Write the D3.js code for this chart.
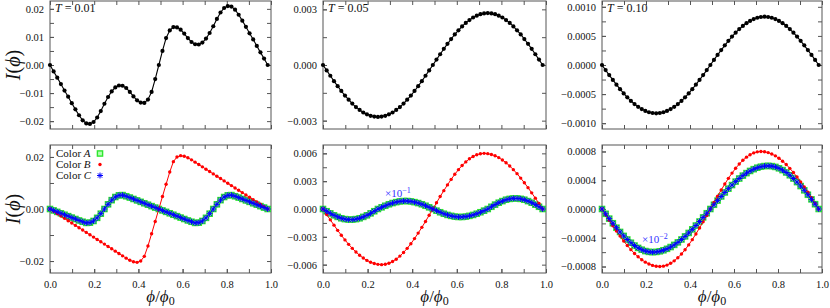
<!DOCTYPE html>
<html lang="en">
<head>
<meta charset="UTF-8">
<title>I(phi) panels</title>
<script src="https://d3js.org/d3.v7.min.js"></script>
<style>
  body { margin: 0; background: #fff; }
  svg { display: block; }
  svg text { font-family: "Liberation Serif", "Times New Roman", serif !important; }
</style>
</head>
<body>
<svg width="830" height="308"></svg>
<script>
// flux grid phi/phi0 (61 points, last one just short of 1)
var PHI = [0, 0.0164, 0.0328, 0.0493, 0.0657, 0.0821, 0.0985, 0.1149, 0.1313, 0.1478,
  0.1642, 0.1806, 0.1970, 0.2134, 0.2298, 0.2463, 0.2627, 0.2791, 0.2955, 0.3119,
  0.3283, 0.3448, 0.3612, 0.3776, 0.3940, 0.4104, 0.4268, 0.4433, 0.4597, 0.4761,
  0.4925, 0.5089, 0.5253, 0.5418, 0.5582, 0.5746, 0.5910, 0.6074, 0.6238, 0.6403,
  0.6567, 0.6731, 0.6895, 0.7059, 0.7223, 0.7388, 0.7552, 0.7716, 0.7880, 0.8044,
  0.8208, 0.8373, 0.8537, 0.8701, 0.8865, 0.9029, 0.9194, 0.9358, 0.9522, 0.9686, 0.9850];

// all currents below are in units of 1e-3
var UNIT = 1e-3;

// top row: total current at T = 0.01, 0.05, 0.10
var T001 = [0, -2.3, -4.5, -6.8, -9.1, -11.3, -13.6, -15.8, -17.9, -19.7, -20.8, -21.0, -20.3, -18.7, -16.4,
  -13.8, -11.4, -9.4, -8.0, -7.3, -7.4, -8.2, -9.6, -11.2, -12.6, -13.4, -13.5, -12.3, -9.6, -5.0, 0,
  5.0, 9.6, 12.3, 13.5, 13.4, 12.6, 11.2, 9.6, 8.2, 7.4, 7.3, 8.0, 9.4, 11.4, 13.8, 16.4, 18.7, 20.3,
  21.0, 20.8, 19.7, 17.9, 15.8, 13.6, 11.3, 9.1, 6.8, 4.5, 2.3, 0];
var T005 = [0, -0.29, -0.58, -0.87, -1.14, -1.40, -1.65, -1.87, -2.08, -2.27, -2.42, -2.56, -2.66, -2.74, -2.78,
  -2.80, -2.78, -2.74, -2.66, -2.56, -2.42, -2.27, -2.08, -1.87, -1.65, -1.40, -1.14, -0.87, -0.58, -0.29, 0,
  0.29, 0.58, 0.87, 1.14, 1.40, 1.65, 1.87, 2.08, 2.27, 2.42, 2.56, 2.66, 2.74, 2.78, 2.80, 2.78, 2.74, 2.66,
  2.56, 2.42, 2.27, 2.08, 1.87, 1.65, 1.40, 1.14, 0.87, 0.58, 0.29, 0];
var T010 = [0, -0.087, -0.173, -0.256, -0.338, -0.415, -0.488, -0.555, -0.617, -0.671, -0.719, -0.758, -0.789,
  -0.812, -0.825, -0.830, -0.825, -0.812, -0.789, -0.758, -0.719, -0.671, -0.617, -0.555, -0.488, -0.415,
  -0.338, -0.256, -0.173, -0.087, 0, 0.087, 0.173, 0.256, 0.338, 0.415, 0.488, 0.555, 0.617, 0.671, 0.719,
  0.758, 0.789, 0.812, 0.825, 0.830, 0.825, 0.812, 0.789, 0.758, 0.719, 0.671, 0.617, 0.555, 0.488, 0.415,
  0.338, 0.256, 0.173, 0.087, 0];

// bottom row: colour components (A green, B red, C blue)
var BL_A = [0, -0.55, -1.1, -1.65, -2.2, -2.75, -3.3, -3.85, -4.4, -4.9, -5.35, -5.25, -4.6, -3.4, -1.8, 0,
  1.8, 3.4, 4.6, 5.25, 5.35, 4.9, 4.4, 3.85, 3.3, 2.75, 2.2, 1.65, 1.1, 0.55, 0,
  -0.55, -1.1, -1.65, -2.2, -2.75, -3.3, -3.85, -4.4, -4.9, -5.35, -5.25, -4.6, -3.4, -1.8, 0,
  1.8, 3.4, 4.6, 5.25, 5.35, 4.9, 4.4, 3.85, 3.3, 2.75, 2.2, 1.65, 1.1, 0.55, 0];
var BL_B = [0, -0.9, -1.8, -2.7, -3.6, -4.5, -5.4, -6.3, -7.2, -8.1, -9.0, -9.9, -10.8, -11.7, -12.6, -13.5,
  -14.4, -15.3, -16.2, -17.1, -18.0, -18.9, -19.7, -20.3, -20.5, -20.0, -18.2, -14.2, -9.5, -4.8, 0,
  4.8, 9.5, 14.2, 18.2, 20.0, 20.5, 20.3, 19.7, 18.9, 18.0, 17.1, 16.2, 15.3, 14.4, 13.5, 12.6, 11.7,
  10.8, 9.9, 9.0, 8.1, 7.2, 6.3, 5.4, 4.5, 3.6, 2.7, 1.8, 0.9, 0];
var BL_C = [0, -0.55, -1.1, -1.65, -2.2, -2.75, -3.3, -3.85, -4.4, -4.9, -5.35, -5.25, -4.6, -3.4, -1.8, 0,
  1.8, 3.4, 4.6, 5.25, 5.35, 4.9, 4.4, 3.85, 3.3, 2.75, 2.2, 1.65, 1.1, 0.55, 0,
  -0.55, -1.1, -1.65, -2.2, -2.75, -3.3, -3.85, -4.4, -4.9, -5.35, -5.25, -4.6, -3.4, -1.8, 0,
  1.8, 3.4, 4.6, 5.25, 5.35, 4.9, 4.4, 3.85, 3.3, 2.75, 2.2, 1.65, 1.1, 0.55, 0];

var BM_A = [0, -0.24, -0.47, -0.68, -0.85, -1.00, -1.09, -1.14, -1.14, -1.09, -1.00, -0.85, -0.68, -0.47, -0.24, 0,
  0.18, 0.35, 0.51, 0.64, 0.74, 0.82, 0.86, 0.86, 0.82, 0.74, 0.64, 0.51, 0.35, 0.18, 0,
  -0.18, -0.35, -0.51, -0.64, -0.74, -0.82, -0.86, -0.86, -0.82, -0.74, -0.64, -0.51, -0.35, -0.18, 0,
  0.24, 0.47, 0.68, 0.85, 1.00, 1.09, 1.14, 1.14, 1.09, 1.00, 0.85, 0.68, 0.47, 0.24, 0];
var BM_B = [0, -0.59, -1.17, -1.74, -2.30, -2.83, -3.33, -3.81, -4.24, -4.64, -4.99, -5.29, -5.54, -5.74, -5.88,
  -5.97, -6.00, -5.96, -5.85, -5.66, -5.41, -5.08, -4.69, -4.24, -3.74, -3.19, -2.60, -1.98, -1.34, -0.67, 0,
  0.67, 1.34, 1.98, 2.60, 3.19, 3.74, 4.24, 4.69, 5.08, 5.41, 5.66, 5.85, 5.96, 6.00, 5.97, 5.88, 5.74, 5.54,
  5.29, 4.99, 4.64, 4.24, 3.81, 3.33, 2.83, 2.30, 1.74, 1.17, 0.59, 0];
var BM_C = [0, -0.24, -0.47, -0.68, -0.85, -1.00, -1.09, -1.14, -1.14, -1.09, -1.00, -0.85, -0.68, -0.47, -0.24, 0,
  0.18, 0.35, 0.51, 0.64, 0.74, 0.82, 0.86, 0.86, 0.82, 0.74, 0.64, 0.51, 0.35, 0.18, 0,
  -0.18, -0.35, -0.51, -0.64, -0.74, -0.82, -0.86, -0.86, -0.82, -0.74, -0.64, -0.51, -0.35, -0.18, 0,
  0.24, 0.47, 0.68, 0.85, 1.00, 1.09, 1.14, 1.14, 1.09, 1.00, 0.85, 0.68, 0.47, 0.24, 0];

var BR_A = [0, -0.067, -0.134, -0.198, -0.260, -0.319, -0.374, -0.424, -0.469, -0.508, -0.541, -0.566, -0.585,
  -0.596, -0.600, -0.597, -0.588, -0.574, -0.554, -0.529, -0.499, -0.464, -0.424, -0.381, -0.333, -0.283,
  -0.230, -0.174, -0.117, -0.059, 0, 0.059, 0.117, 0.174, 0.230, 0.283, 0.333, 0.381, 0.424, 0.464, 0.499,
  0.529, 0.554, 0.574, 0.588, 0.597, 0.600, 0.596, 0.585, 0.566, 0.541, 0.508, 0.469, 0.424, 0.374, 0.319,
  0.260, 0.198, 0.134, 0.067, 0];
var BR_B = [0, -0.078, -0.156, -0.232, -0.306, -0.377, -0.444, -0.508, -0.565, -0.619, -0.665, -0.705, -0.739,
  -0.765, -0.784, -0.796, -0.800, -0.795, -0.780, -0.755, -0.721, -0.677, -0.625, -0.566, -0.499, -0.426,
  -0.347, -0.264, -0.179, -0.090, 0, 0.090, 0.179, 0.264, 0.347, 0.426, 0.499, 0.566, 0.625, 0.677, 0.721,
  0.755, 0.780, 0.795, 0.800, 0.796, 0.784, 0.765, 0.739, 0.705, 0.665, 0.619, 0.565, 0.508, 0.444, 0.377,
  0.306, 0.232, 0.156, 0.078, 0];
var BR_C = [0, -0.067, -0.134, -0.198, -0.260, -0.319, -0.374, -0.424, -0.469, -0.508, -0.541, -0.566, -0.585,
  -0.596, -0.600, -0.597, -0.588, -0.574, -0.554, -0.529, -0.499, -0.464, -0.424, -0.381, -0.333, -0.283,
  -0.230, -0.174, -0.117, -0.059, 0, 0.059, 0.117, 0.174, 0.230, 0.283, 0.333, 0.381, 0.424, 0.464, 0.499,
  0.529, 0.554, 0.574, 0.588, 0.597, 0.600, 0.596, 0.585, 0.566, 0.541, 0.508, 0.469, 0.424, 0.374, 0.319,
  0.260, 0.198, 0.134, 0.067, 0];

// tick labels
var X_TICKS = [0, 0.2, 0.4, 0.6, 0.8, 1.0];
var TL_TICKS = [-0.02, -0.01, 0, 0.01, 0.02];
var TM_TICKS = [-0.003, 0, 0.003];
var TR_TICKS = [-0.001, -0.0005, 0, 0.0005, 0.001];
var BL_TICKS = [-0.02, 0, 0.02];
var BM_TICKS = [-0.006, -0.003, 0, 0.003, 0.006];
var BR_TICKS = [-0.0008, -0.0004, 0, 0.0004, 0.0008];
var TEMPS = ["0.01", "0.05", "0.10"];
var LEGEND = ["A", "B", "C"];

var svg = d3.select("svg");
var SERIF = '"Liberation Serif", "Times New Roman", serif';

var STYLE = {
  black: {line: "#000", width: 1.1},
  A: {line: "#2ee62e", width: 1},
  B: {line: "#ff0000", width: 1},
  C: {line: "#0000ff", width: 1}
};

var cols = [[50, 271], [323, 546], [602, 822]];
var rows = [[1, 129], [145, 273]];

var panels = [
  {c: 0, r: 0, dom: 0.0228, ticks: TL_TICKS, minor: 0.005, fmt: ".2f", series: [["black", T001]], temp: TEMPS[0]},
  {c: 1, r: 0, dom: 0.00345, ticks: TM_TICKS, minor: 0.0015, fmt: ".3f", series: [["black", T005]], temp: TEMPS[1]},
  {c: 2, r: 0, dom: 0.0011, ticks: TR_TICKS, minor: 0.00025, fmt: ".4f", series: [["black", T010]], temp: TEMPS[2]},
  {c: 0, r: 1, dom: 0.0246, ticks: BL_TICKS, minor: 0.01, fmt: ".2f", series: [["A", BL_A], ["B", BL_B], ["C", BL_C]]},
  {c: 1, r: 1, dom: 0.0069, ticks: BM_TICKS, minor: 0.0015, fmt: ".3f", series: [["A", BM_A], ["B", BM_B], ["C", BM_C]], note: {x: 385, y: 197, p: "\u22121"}},
  {c: 2, r: 1, dom: 0.00089, ticks: BR_TICKS, minor: 0.0002, fmt: ".4f", series: [["A", BR_A], ["B", BR_B], ["C", BR_C]], note: {x: 642, y: 243, p: "\u22122"}}
];

function styleAxis(g) {
  g.select(".domain").remove();
  g.attr("font-family", SERIF).attr("font-size", 10.5);
  g.selectAll("line").attr("stroke", "#555");
  g.selectAll("text").attr("fill", "#111").style("font-family", SERIF);
}

function drawMarker(sel, kind) {
  if (kind === "black") {
    sel.append("circle").attr("r", 2.1).attr("fill", "#000");
  } else if (kind === "B") {
    sel.append("circle").attr("r", 1.7).attr("fill", "#ff0000");
  } else if (kind === "A") {
    sel.append("rect").attr("x", -2.6).attr("y", -2.6).attr("width", 5.2).attr("height", 5.2)
      .attr("fill", "#b4ffb4").attr("stroke", "#2ee62e").attr("stroke-width", 1.4);
  } else {
    sel.append("path").attr("d", "M-3,0H3M0,-3V3M-2.2,-2.2L2.2,2.2M-2.2,2.2L2.2,-2.2")
      .attr("stroke", "#0000ff").attr("stroke-width", 1).attr("fill", "none");
  }
}

panels.forEach(function(p) {
  var x0 = cols[p.c][0], x1 = cols[p.c][1];
  var y0 = rows[p.r][0], y1 = rows[p.r][1];
  var x = d3.scaleLinear().domain([0, 1]).range([x0, x1]);
  var y = d3.scaleLinear().domain([-p.dom, p.dom]).range([y1, y0]);
  var g = svg.append("g");

  var yMinor = d3.range(-Math.floor(p.dom / p.minor + 1e-9), Math.floor(p.dom / p.minor + 1e-9) + 1)
    .map(function(k) { return k * p.minor; });
  var xMinor = d3.range(0, 11).map(function(k) { return k / 10; });

  // left axis with labels, right axis mirrored
  g.append("g").attr("transform", "translate(" + x0 + ",0)")
    .call(d3.axisLeft(y).tickValues(yMinor).tickSize(-4).tickFormat(""))
    .call(styleAxis);
  g.append("g").attr("transform", "translate(" + x0 + ",0)")
    .call(d3.axisLeft(y).tickValues(p.ticks).tickSize(-4).tickPadding(6).tickFormat(d3.format(p.fmt)))
    .call(styleAxis);
  g.append("g").attr("transform", "translate(" + x1 + ",0)")
    .call(d3.axisRight(y).tickValues(yMinor).tickSize(-4).tickFormat(""))
    .call(styleAxis);

  g.append("g").attr("transform", "translate(0," + y0 + ")")
    .call(d3.axisTop(x).tickValues(xMinor).tickSize(-4).tickFormat(""))
    .call(styleAxis);
  g.append("g").attr("transform", "translate(0," + y1 + ")")
    .call(d3.axisBottom(x).tickValues(xMinor).tickSize(-4).tickFormat(""))
    .call(styleAxis);
  if (p.r === 1) {
    g.append("g").attr("transform", "translate(0," + y1 + ")")
      .call(d3.axisBottom(x).tickValues(X_TICKS).tickSize(-4).tickPadding(8).tickFormat(d3.format(".1f")))
      .call(styleAxis);
  }

  g.append("rect").attr("x", x0).attr("y", y0).attr("width", x1 - x0).attr("height", y1 - y0)
    .attr("fill", "none").attr("stroke", "#555").attr("stroke-width", 1);

  var line = d3.line().x(function(d) { return x(d[0]); }).y(function(d) { return y(d[1]); });

  p.series.forEach(function(s) {
    var kind = s[0];
    var pts = PHI.map(function(v, i) { return [v, s[1][i] * UNIT]; });
    g.append("path").datum(pts).attr("d", line).attr("fill", "none")
      .attr("stroke", STYLE[kind].line).attr("stroke-width", STYLE[kind].width);
    g.append("g").selectAll("g").data(pts).enter().append("g")
      .attr("transform", function(d) { return "translate(" + x(d[0]) + "," + y(d[1]) + ")"; })
      .each(function() { drawMarker(d3.select(this), kind); });
  });

  if (p.temp) {
    var t = g.append("text").attr("x", x0 + 5).attr("y", y0 + 11).attr("font-size", 12).attr("fill", "#111");
    t.append("tspan").attr("font-style", "italic").text("T");
    t.append("tspan").text(" = " + p.temp);
  }

  if (p.note) {
    var n = g.append("text").attr("x", p.note.x).attr("y", p.note.y).attr("font-size", 11).style("fill", "#3333ff");
    n.append("tspan").text("\u00d710");
    n.append("tspan").attr("dy", -4).attr("font-size", 8).text(p.note.p);
  }

  if (p.c === 0) {
    var yl = g.append("text")
      .attr("transform", "translate(20," + ((y0 + y1) / 2) + ") rotate(-90)")
      .attr("text-anchor", "middle").attr("font-size", 20).attr("fill", "#111");
    yl.append("tspan").attr("font-style", "italic").text("I");
    yl.append("tspan").text("(");
    yl.append("tspan").attr("font-style", "italic").text("\u03d5");
    yl.append("tspan").text(")");
  }

  if (p.r === 1) {
    var xl = g.append("text").attr("x", (x0 + x1) / 2).attr("y", 302)
      .attr("text-anchor", "middle").attr("font-size", 17).attr("fill", "#111");
    xl.append("tspan").attr("font-style", "italic").text("\u03d5");
    xl.append("tspan").text("/");
    xl.append("tspan").attr("font-style", "italic").text("\u03d5");
    xl.append("tspan").attr("dy", 3).attr("font-size", 12).text("0");
  }
});

// legend in the first bottom panel
var leg = svg.append("g");
LEGEND.forEach(function(name, i) {
  var cy = 153.5 + i * 11;
  var t = leg.append("text").attr("x", 56).attr("y", cy + 3.6).attr("font-size", 11).attr("fill", "#111");
  t.append("tspan").text("Color ");
  t.append("tspan").attr("font-style", "italic").text(name);
  var m = leg.append("g").attr("transform", "translate(100," + cy + ")");
  drawMarker(m, name);
});
</script>
</body>
</html>
